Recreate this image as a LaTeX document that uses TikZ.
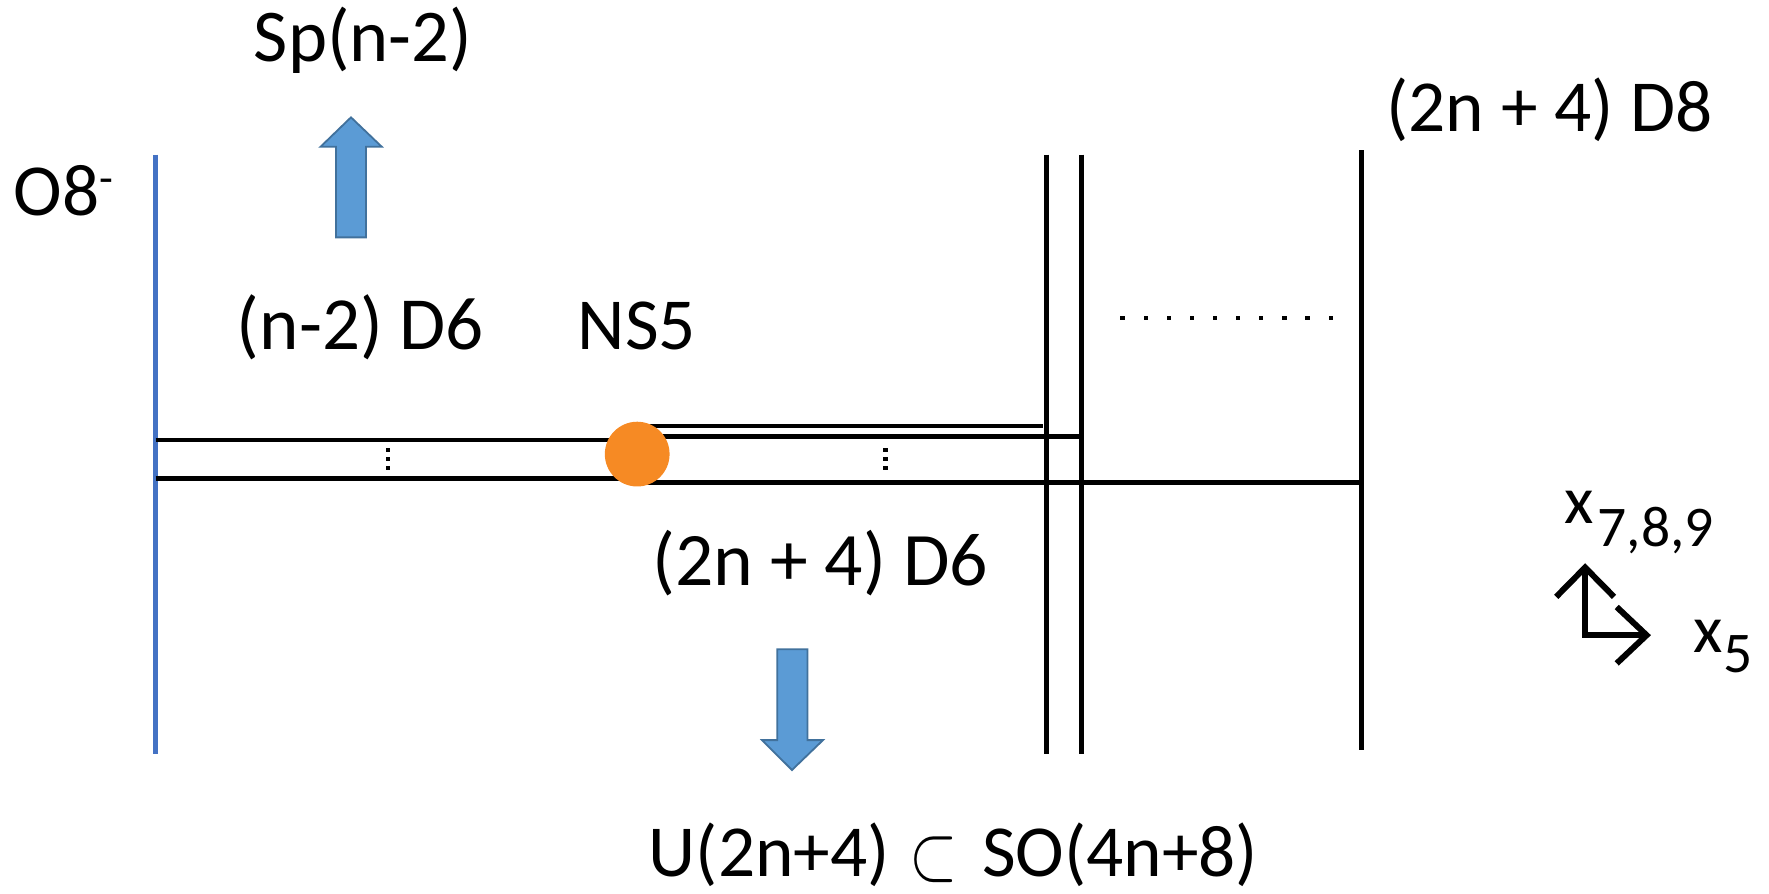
\documentclass[tikz,border=0pt]{standalone}
\usepackage{fontspec}
\setmainfont{Carlito}
\usetikzlibrary{calc}
\definecolor{o8blue}{HTML}{4472C4}
\definecolor{arrowfill}{HTML}{5B9BD5}
\definecolor{arrowedge}{HTML}{41719C}
\definecolor{nsorange}{HTML}{F68A24}
\newcommand{\bigsubset}{{\fontsize{10}{12}\selectfont\raisebox{-3pt}{\scalebox{5.5}[7]{$\subset$}}}}
\begin{document}
\begin{tikzpicture}[x=1pt,y=-1pt,
  brane/.style={line width=4.4pt, draw=black},
  planebrane/.style={line width=4.4pt, draw=o8blue},
  lbl/.style={inner sep=0pt, outer sep=0pt, anchor=base west,
              font=\fontsize{65}{78}\selectfont},
  axislbl/.style={inner sep=0pt, outer sep=0pt, anchor=base west,
              font=\fontsize{60}{72}\selectfont},
  blockarrow/.style={fill=arrowfill, draw=arrowedge, line width=1.6pt, line join=miter},
  axisline/.style={line width=5.3pt, line join=miter, line cap=butt},
  dotsq/.style={fill=black, minimum size=3.8pt, inner sep=0pt, rectangle}]
\useasboundingbox (0,0) rectangle (1568,792);

% O8^- plane
\coordinate (o8t) at (138,137);
\coordinate (o8b) at (138,668);
\draw[planebrane] (o8t) -- (o8b);

% D8 branes
\coordinate (d8at) at (927.7,137);  \coordinate (d8ab) at (927.7,668);
\coordinate (d8bt) at (959,137);    \coordinate (d8bb) at (959,668);
\coordinate (d8ct) at (1207,133);   \coordinate (d8cb) at (1207,665);
\draw[brane] (d8at) -- (d8ab);
\draw[brane] (d8bt) -- (d8bb);
\draw[brane] (d8ct) -- (d8cb);

% NS5 brane position
\coordinate (nsc) at (564.8,402.5);

% D6 branes between O8 and NS5
\coordinate (l1a) at (138,390);   \coordinate (l1b) at (564.8,390);
\coordinate (l2a) at (138,424);   \coordinate (l2b) at (564.8,424);
\draw[brane] (l1a) -- (l1b);
\draw[brane] (l2a) -- (l2b);

% D6 branes ending on the D8 branes
\coordinate (r1a) at (564.8,377.6); \coordinate (r1b) at (924.5,377.6);
\coordinate (r2a) at (564.8,386.5); \coordinate (r2b) at (959,386.5);
\coordinate (r3a) at (564.8,427.8); \coordinate (r3b) at (1207,427.8);
\draw[brane] (r1a) -- (r1b);
\draw[brane] (r2a) -- (r2b);
\draw[brane] (r3a) -- (r3b);

% NS5 brane
\node[circle, fill=nsorange, minimum size=57.4pt, inner sep=0pt] (ns) at (nsc) {};

% vertical ellipses between the D6 stacks
\foreach \y [count=\i] in {399,407,415} {
  \node[dotsq] (vl\i) at (344,\y) {};
  \node[dotsq] (vr\i) at (785,\y) {};
}
% horizontal ellipsis between the D8 branes
\foreach \k in {0,...,9} {
  \node[dotsq] (hd\k) at ({995+20.5*\k},282) {};
}

% block arrows
\draw[blockarrow] (311.1,104) -- (338.3,130) -- (324.4,130) -- (324.4,210.4)
  -- (297.8,210.4) -- (297.8,130) -- (284.2,130) -- cycle;
\draw[blockarrow] (702,682.5) -- (729.5,656) -- (715.7,656) -- (715.7,575.5)
  -- (689,575.5) -- (689,656) -- (675.4,656) -- cycle;

% labels
\node[lbl, font=\fontsize{66}{79}\selectfont] (sp) at (225,54.7) {Sp(n-2)};
\node[lbl] (o8) at (12,190.6) {O8{\fontsize{40}{40}\selectfont\raisebox{19pt}{-}}};
\node[lbl, font=\fontsize{66.5}{80}\selectfont] (nd6) at (210,310.2) {(n-2) D6};
\node[lbl] (ns5) at (512,310.2) {NS5};
\node[lbl, font=\fontsize{67}{80}\selectfont] (d6) at (578,519.4) {(2n + 4) D6};
\node[lbl] (d8) at (1229,116.7) {(2n + 4) D8};
\node[lbl] (grp) at (575,777) {U(2n+4)\hspace{18pt}\bigsubset\hspace{21.2pt}SO(4n+8)};

% coordinate axes
\coordinate (ax0) at (1405,563);
\coordinate (axu) at (1405,503);
\coordinate (axr) at (1459.5,563);
\draw[axisline] (axu) -- (ax0) -- (axr);
\draw[axisline] ($(axu)+(-25.6,26)$) -- (axu) -- ($(axu)+(25.6,26)$);
\draw[axisline] ($(axr)+(-26.5,-25)$) -- (axr) -- ($(axr)+(-26.5,25)$);
\node[axislbl] (xu) at (1387,464) {x\hspace{3pt}\raisebox{-20pt}{\fontsize{51}{51}\selectfont 7,8,9}};
\node[axislbl] (xr) at (1501,578) {x\hspace{1pt}\raisebox{-18pt}{\fontsize{51}{51}\selectfont 5}};
\end{tikzpicture}
\end{document}
